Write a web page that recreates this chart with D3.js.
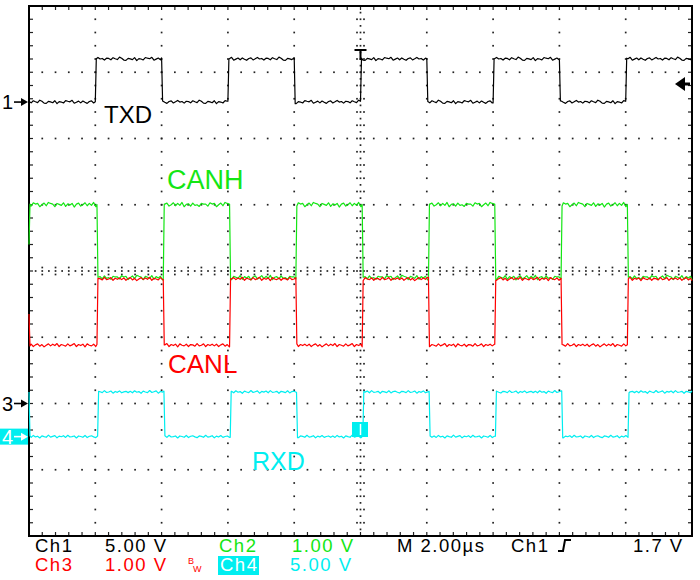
<!DOCTYPE html>
<html><head><meta charset="utf-8">
<script src="https://cdn.jsdelivr.net/npm/d3@7"></script>
<style>html,body{margin:0;padding:0;background:#fff}svg{display:block}</style>
</head><body>
<script>
// ---- data (time in µs, levels in volts) ----
const timeRange = [-10, 10];           // 2.00 µs/div, 10 divisions
const txdTimes  = [-10, -8, -6, -4, -2, 0, 2, 4, 6, 8];
const txdLevels = [0, 3.25, 0, 3.25, 0, 3.25, 0, 3.25, 0, 3.25];
const canhTimes = [-10, -7.95, -5.95, -3.95, -1.95, 0.05, 2.05, 4.05, 6.05, 8.05];
const canhLevels= [3.0, 1.9, 3.0, 1.9, 3.0, 1.9, 3.0, 1.9, 3.0, 1.9];
const canhStart = 2.4;
const canlTimes = [-10, -7.95, -5.95, -3.95, -1.95, 0.05, 2.05, 4.05, 6.05, 8.05];
const canlLevels= [0.88, 1.88, 0.88, 1.88, 0.88, 1.88, 0.88, 1.88, 0.88, 1.88];
const canlStart = 1.35;
const rxdTimes  = [-10, -7.93, -5.93, -3.93, -1.93, 0.07, 2.07, 4.07, 6.07, 8.07];
const rxdLevels = [0, 3.37, 0, 3.37, 0, 3.37, 0, 3.37, 0, 3.37];
const rxdStart  = 3.37;
// channel settings: volts/div and ground offset (divisions from centre)
const ch1 = {vdiv: 5, offset: 2.55};
const ch2 = {vdiv: 1, offset: -2.0};
const ch3 = {vdiv: 1, offset: -2.0};
const ch4 = {vdiv: 5, offset: -2.5};
const noise1 = [0.04,-0.06,0.1,0.02,-0.04,0.14,0.06,-0.08,-0.1,0.05,0.01,-0.05,0.1,-0.12,0.03,0.0,-0.07,0.11,0.06,0.02,0.13,-0.09,-0.01,0.07,-0.06,0.08,-0.02,-0.1,0.04,0.09,-0.07,0.02,0.12,0.0,0.04,-0.08,0.06];
const noise2 = [0.01,-0.02,0.03,0.01,0.02,-0.03,0.0,0.025,-0.015,0.035,0.02,0.01,-0.03,0.02,0.005,-0.01,0.03,-0.025,0.015,-0.005,0.02,-0.035,0.01,0.025,-0.02,0.0,0.03,-0.015,0.02,-0.01,0.035,-0.03,0.005,0.015,-0.02,0.025,-0.01,0.0,-0.025,0.02,0.01];
const noise3 = [-0.01,0.015,-0.02,0.005,0.02,-0.015,0.01,-0.025,0.0,0.02,-0.01,0.015,-0.005,0.025,-0.02,0.01,0.0,-0.015,0.02,-0.01,0.005,0.025,-0.02,0.01,-0.005,0.015,-0.025,0.02,0.0,-0.01,0.015,-0.02,0.01,0.005,-0.015,0.025,-0.01,0.0,0.02,-0.02,0.01,-0.005,0.015];
const noise4 = [0.05,-0.06,0.09,-0.02,0.03,-0.1,0.06,0.0,-0.05,0.11,-0.04,0.02,0.08,-0.09,0.04,-0.01,0.07,-0.06,0.1,-0.03,0.0,0.05,-0.1,0.05,0.01,-0.05,0.09,-0.07,0.03,0.06,-0.02,-0.08,0.05,0.02,-0.05,0.1,-0.04,0.0,0.07,-0.09,0.04,-0.03,0.08,-0.06,0.01,0.05,-0.05];
const labels = ["TXD", "CANH", "CANL", "RXD"];
const statusRow1 = ["Ch1", "5.00 V", "Ch2", "1.00 V", "M 2.00µs", "Ch1", "1.7 V"];
const statusRow2 = ["Ch3", "1.00 V", "Ch4", "5.00 V"];

// ---- layout ----
const W = 700, H = 580;
const X0 = 29, X1 = 692, Y0 = 6, Y1 = 536;
const GREEN = "#14e614", RED = "#ff0000", CYAN = "#00eef0";
const svg = d3.select("body").append("svg").attr("width", W).attr("height", H);
const x = d3.scaleLinear().domain(timeRange).range([X0, X1]);
const xDiv = d3.scaleLinear().domain([-5, 5]).range([X0, X1]);
const yDiv = d3.scaleLinear().domain([-4, 4]).range([Y1, Y0]);

// ---- graticule ----
const g = svg.append("g");
function dot(px, py, s = 1.7) {
  g.append("rect").attr("x", px - s / 2).attr("y", py - s / 2).attr("width", s).attr("height", s).attr("fill", "#222");
}
const minor = d3.range(-4, 4.001, 0.2);
const minorX = d3.range(-5, 5.001, 0.2);
for (let i = -4; i <= 4; i++) {
  if (i === 0) continue;
  minor.forEach(j => dot(xDiv(i), yDiv(j)));
}
for (let j = -3; j <= 3; j++) {
  if (j === 0) continue;
  minorX.forEach(i => dot(xDiv(i), yDiv(j)));
}
// centre lines with ticks
d3.range(-5, 5.001, 0.1).forEach((i, k) => {
  dot(xDiv(i), yDiv(0));
  if (k % 2 === 0) { dot(xDiv(i), yDiv(0) - 3.5); dot(xDiv(i), yDiv(0) + 3.5); }
});
d3.range(-4, 4.001, 0.1).forEach((j, k) => {
  dot(xDiv(0), yDiv(j));
  if (k % 2 === 0) { dot(xDiv(0) - 3.5, yDiv(j)); dot(xDiv(0) + 3.5, yDiv(j)); }
});
// frame ticks
minorX.forEach(i => {
  g.append("line").attr("x1", xDiv(i)).attr("x2", xDiv(i)).attr("y1", Y0).attr("y2", Y0 + 4).attr("stroke", "#222").attr("stroke-width", 1.2);
  g.append("line").attr("x1", xDiv(i)).attr("x2", xDiv(i)).attr("y1", Y1).attr("y2", Y1 - 4).attr("stroke", "#222").attr("stroke-width", 1.2);
});
minor.forEach(j => {
  g.append("line").attr("x1", X0).attr("x2", X0 + 4).attr("y1", yDiv(j)).attr("y2", yDiv(j)).attr("stroke", "#222").attr("stroke-width", 1.2);
  g.append("line").attr("x1", X1).attr("x2", X1 - 4).attr("y1", yDiv(j)).attr("y2", yDiv(j)).attr("stroke", "#222").attr("stroke-width", 1.2);
});
svg.append("rect").attr("x", X0).attr("y", Y0).attr("width", X1 - X0).attr("height", Y1 - Y0)
  .attr("fill", "none").attr("stroke", "#000").attr("stroke-width", 2);

// ---- traces ----
const step = 0.065, edge = 0.03, nSteps = Math.floor(20 / step);
function build(times, levels, noise, start) {
  const pts = [];
  const nAt = t => noise[Math.round((t + 10) / step) % noise.length];
  for (let s = 0; s < times.length; s++) {
    const t0 = s === 0 ? timeRange[0] : times[s] + edge;
    const t1 = s < times.length - 1 ? times[s + 1] : timeRange[1];
    if (s === 0 && start !== undefined) pts.push([timeRange[0], start]);
    const first = s === 0 && start !== undefined ? timeRange[0] + edge : t0;
    pts.push([first, levels[s] + nAt(first)]);
    for (let i = 0; i <= nSteps; i++) {
      const t = timeRange[0] + i * step;
      if (t > first + 1e-6 && t < t1 - 1e-6) pts.push([t, levels[s] + noise[i % noise.length]]);
    }
    pts.push([t1, levels[s] + nAt(t1)]);
  }
  return pts;
}
function drawTrace(pts, ch, color) {
  const yv = v => yDiv(ch.offset + v / ch.vdiv);
  svg.append("path").datum(pts)
    .attr("d", d3.line().x(d => x(d[0])).y(d => yv(d[1])))
    .attr("fill", "none").attr("stroke", color).attr("stroke-width", 1.2).attr("stroke-linejoin", "round");
}
drawTrace(build(txdTimes, txdLevels, noise1), ch1, "#000");
drawTrace(build(canhTimes, canhLevels, noise2, canhStart), ch2, GREEN);
drawTrace(build(canlTimes, canlLevels, noise3, canlStart), ch3, RED);
drawTrace(build(rxdTimes, rxdLevels, noise4, rxdStart), ch4, CYAN);

// ---- trace labels ----
const font = "'Liberation Sans', Arial, sans-serif";
const lab = [[labels[0], 104, 123, 24, "#000"], [labels[1], 167, 189, 27, GREEN],
             [labels[2], 168, 373, 26, RED], [labels[3], 252, 470, 25, CYAN]];
lab.forEach(([t, lx, ly, fs, c]) => svg.append("text").attr("x", lx).attr("y", ly)
  .attr("font-family", font).attr("font-size", fs).attr("fill", c).text(t));

// ---- channel ground markers ----
function marker(num, ch, color, boxed) {
  const my = yDiv(ch.offset);
  if (boxed) svg.append("rect").attr("x", 0).attr("y", my - 8).attr("width", 28).attr("height", 16).attr("fill", CYAN);
  const c = boxed ? "#fff" : color;
  svg.append("text").attr("x", 2).attr("y", my + 7).attr("font-family", font).attr("font-size", 20).attr("fill", c).text(num);
  svg.append("line").attr("x1", 14).attr("x2", 22).attr("y1", my).attr("y2", my).attr("stroke", c).attr("stroke-width", 1.6);
  svg.append("path").attr("d", `M28,${my} L21,${my - 4} L21,${my + 4} Z`).attr("fill", c);
}
marker("1", ch1, "#000", false);
marker("3", ch3, "#000", false);
marker("4", ch4, CYAN, true);

// trigger position "T" at top
svg.append("path").attr("d", `M${xDiv(0) - 6},50 H${xDiv(0) + 6} M${xDiv(0)},50 V60`)
  .attr("stroke", "#000").attr("stroke-width", 2).attr("fill", "none");
// trigger level arrow at right
const trigY = 84;
svg.append("path").attr("d", `M675,${trigY} L685,${trigY - 7} L685,${trigY + 7} Z`).attr("fill", "#000");
svg.append("rect").attr("x", 684).attr("y", trigY - 1.5).attr("width", 6).attr("height", 3).attr("fill", "#000");
// ch4 reference box at centre
svg.append("rect").attr("x", 352).attr("y", 422).attr("width", 16).attr("height", 15).attr("fill", CYAN);
svg.append("line").attr("x1", xDiv(0)).attr("x2", xDiv(0)).attr("y1", 424).attr("y2", 435).attr("stroke", "#fff").attr("stroke-width", 1.5);

// ---- status bar ----
const sb = svg.append("g").attr("font-family", font).attr("font-size", 18.5).attr("letter-spacing", 1.5);
const r1 = 552, r2 = 571;
const row1 = [[0, 35, "#000"], [1, 105, "#000"], [2, 219, GREEN], [3, 292, GREEN], [4, 397, "#000"], [5, 511, "#000"], [6, 633, "#000"]];
row1.forEach(([i, tx, c]) => sb.append("text").attr("x", tx).attr("y", r1).attr("fill", c).text(statusRow1[i]));
sb.append("rect").attr("x", 218).attr("y", 556).attr("width", 41).attr("height", 19).attr("fill", CYAN);
const row2 = [[0, 35, RED], [1, 105, RED], [2, 220, "#fff"], [3, 290, CYAN]];
row2.forEach(([i, tx, c]) => sb.append("text").attr("x", tx).attr("y", r2).attr("fill", c).text(statusRow2[i]));
// bandwidth-limit mark
svg.append("text").attr("x", 188).attr("y", 564).attr("font-family", font).attr("font-size", 9).attr("fill", RED).text("B");
svg.append("text").attr("x", 193).attr("y", 572).attr("font-family", font).attr("font-size", 9).attr("fill", RED).text("W");
// trigger slope symbol
svg.append("path").attr("d", "M558,551 H563 L565,540 H571").attr("stroke", "#000").attr("stroke-width", 2).attr("fill", "none");
</script>
</body></html>
